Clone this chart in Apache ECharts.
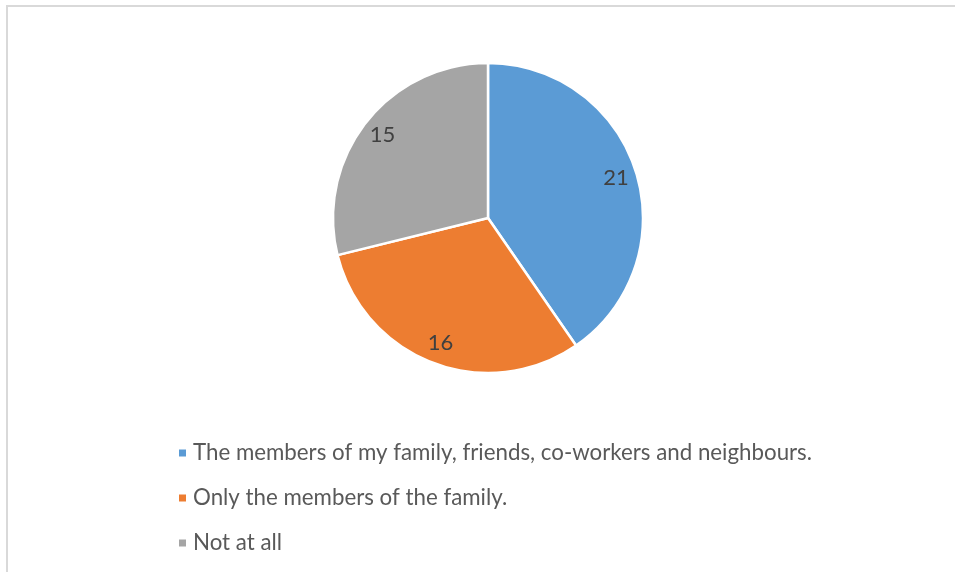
<!DOCTYPE html>
<html>
<head>
<meta charset="utf-8">
<style>
  html, body { margin: 0; padding: 0; background: #ffffff; }
  #chart { width: 955px; height: 572px; }
</style>
<script src="https://cdn.jsdelivr.net/npm/echarts@6/dist/echarts.min.js"></script>
</head>
<body>
<div id="chart"></div>
<script>
// Survey answers and their counts
const categories = [
  'The members of my family, friends, co-workers and neighbours.',
  'Only the members of the family.',
  'Not at all'
];
const counts = [21, 16, 15];
const colors = ['#5b9bd5', '#ed7d31', '#a5a5a5'];

const FONT = 'Lato, "Open Sans", "Liberation Sans", sans-serif';
const center = [488, 218];

const pieData = categories.map((name, i) => ({
  name: name,
  value: counts[i],
  itemStyle: { color: colors[i] }
}));

const chart = echarts.init(document.getElementById('chart'), null, { renderer: 'canvas' });
chart.setOption({
  backgroundColor: '#ffffff',
  animation: false,
  graphic: [{
    type: 'rect',
    shape: { x: 7, y: 6, width: 1000, height: 700 },
    style: { fill: 'none', stroke: '#d9d9d9', lineWidth: 2 },
    silent: true,
    z: -10
  }],
  legend: {
    orient: 'vertical',
    left: 172,
    top: 437,
    icon: 'rect',
    itemWidth: 9,
    itemHeight: 9,
    itemGap: 23,
    data: categories,
    textStyle: { fontFamily: FONT, fontSize: 22.3, color: '#595959', lineHeight: 22, padding: [0, 0, 0, 1] }
  },
  series: [
    {
      type: 'pie',
      center: center,
      radius: [0, 155],
      startAngle: 90,
      clockwise: true,
      silent: true,
      data: pieData,
      itemStyle: { borderColor: '#ffffff', borderWidth: 2.5 },
      label: { show: false },
      labelLine: { show: false }
    },
    {
      // transparent ring used only to place the value labels near the rim
      type: 'pie',
      center: center,
      radius: [106, 156],
      startAngle: 90,
      clockwise: true,
      silent: true,
      data: pieData.map(d => ({ name: d.name, value: d.value, itemStyle: { color: 'rgba(0,0,0,0)' } })),
      itemStyle: { borderWidth: 0 },
      label: {
        show: true,
        position: 'inside',
        formatter: '{c}',
        fontFamily: FONT,
        fontSize: 22,
        color: '#404040'
      },
      labelLine: { show: false }
    }
  ]
});
</script>
</body>
</html>
